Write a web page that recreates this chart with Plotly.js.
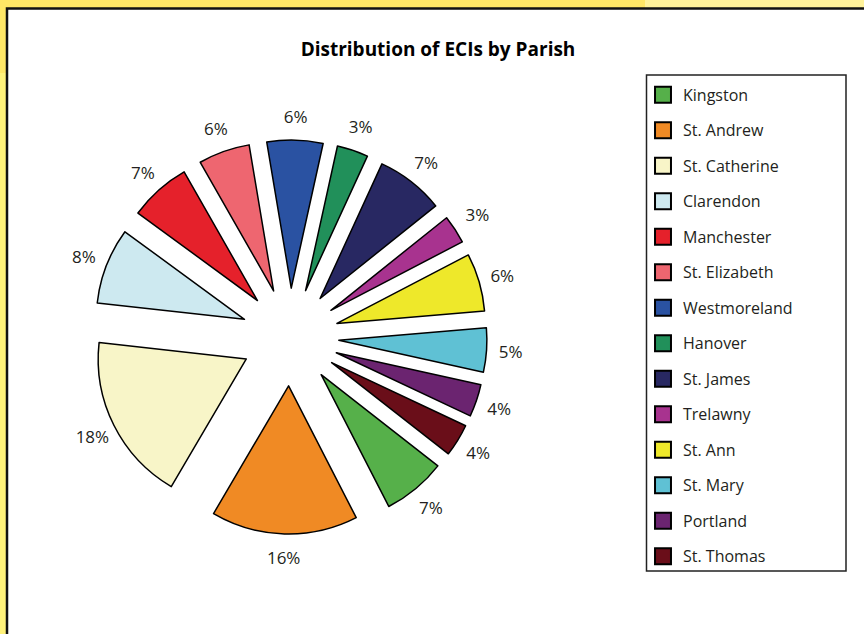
<!DOCTYPE html>
<html>
<head>
<meta charset="utf-8">
<script src="https://cdn.plot.ly/plotly-3.0.1.min.js"></script>
<style>
  html, body { margin: 0; padding: 0; background: #FFE766; }
  #chart { width: 864px; height: 634px; }
  .legend .legendpoints path {
    transform: translate(20px, 0px) scale(1.33);
  }
</style>
</head>
<body>
<div id="chart"></div>
<script>
// ---- data ----
const parishes = ["Kingston", "St. Andrew", "St. Catherine", "Clarendon", "Manchester",
  "St. Elizabeth", "Westmoreland", "Hanover", "St. James", "Trelawny",
  "St. Ann", "St. Mary", "Portland", "St. Thomas"];
const eciShare = [6.9, 16.0, 18.3, 8.3, 6.7, 5.6, 6.1, 3.4, 7.4, 3.1, 6.3, 4.8, 3.55, 3.55];
const sliceColors = ["#56B04A", "#F08A24", "#F8F5C8", "#CDE9F0", "#E5212B",
  "#EE6670", "#2A52A2", "#21905A", "#282862", "#A8338F",
  "#EEE82A", "#5FC1D4", "#6B2470", "#6A0E19"];
const chartTitle = "Distribution of ECIs by Parish";

// ---- layout helpers (pixel -> paper, margins are zero) ----
const W = 864, H = 634;
const px = x => x / W;
const py = y => 1 - y / H;
const FONT = "Open Sans, Noto Sans, sans-serif";

const cx = 290, cy = 337;          // pie centre (px)
const pull = 0.33;
const half = 197;                   // r*(1+pull)  -> r = 148
const halfL = 245.6;                // label ring outer radius (hole 0.8)

const legendLabels = parishes.map(p =>
  '<span style="font-size:16px;baseline-shift:4px">' + p + '</span>');

const pieMain = {
  type: "pie",
  labels: legendLabels,
  values: eciShare,
  sort: false,
  direction: "clockwise",
  rotation: 128,
  pull: pull,
  marker: { colors: sliceColors, line: { color: "#000000", width: 1.5 } },
  textinfo: "none",
  hoverinfo: "skip",
  domain: { x: [px(cx - half), px(cx + half)], y: [py(cy + half), py(cy - half)] },
  showlegend: true
};

// invisible ring that carries the percentage labels
const pieLabels = {
  type: "pie",
  labels: legendLabels,
  values: eciShare,
  sort: false,
  direction: "clockwise",
  rotation: 128,
  hole: 0.8,
  marker: { colors: parishes.map(() => "rgba(0,0,0,0)"), line: { width: 0 } },
  texttemplate: "%{percent:.0%}",
  textposition: "inside",
  insidetextorientation: "horizontal",
  insidetextfont: { family: FONT, size: 17, color: "#231F20" },
  hoverinfo: "skip",
  domain: { x: [px(cx - halfL), px(cx + halfL)], y: [py(cy + halfL), py(cy - halfL)] },
  showlegend: false
};

const layout = {
  width: W, height: H,
  margin: { l: 0, r: 0, t: 0, b: 0 },
  paper_bgcolor: "#FFE766",
  plot_bgcolor: "rgba(0,0,0,0)",
  font: { family: FONT, color: "#231F20" },
  title: {
    text: "<b>" + chartTitle + "</b>",
    font: { family: FONT, size: 19, color: "#000000" },
    x: px(438), xanchor: "center",
    y: py(49), yanchor: "middle", yref: "container"
  },
  showlegend: true,
  legend: {
    x: px(643), xanchor: "left",
    y: py(72), yanchor: "top",
    bgcolor: "rgba(0,0,0,0)",
    borderwidth: 0,
    font: { family: FONT, size: 25, color: "#231F20" },
    itemclick: false, itemdoubleclick: false
  },
  shapes: [
    { type: "rect", xref: "paper", yref: "paper", layer: "below",
      x0: px(645), x1: px(870), y0: py(0), y1: py(8),
      fillcolor: "#FFF29A", line: { width: 0 } },
    { type: "rect", xref: "paper", yref: "paper", layer: "below",
      x0: px(0), x1: px(6), y0: py(73), y1: py(640),
      fillcolor: "#FFF27A", line: { width: 0 } },
    { type: "rect", xref: "paper", yref: "paper", layer: "below",
      x0: px(7), x1: px(880), y0: py(8.5), y1: py(650),
      fillcolor: "#FFFFFF", line: { color: "#111111", width: 2.5 } },
    { type: "rect", xref: "paper", yref: "paper", layer: "below",
      x0: px(646.5), x1: px(846), y0: py(75), y1: py(571),
      fillcolor: "rgba(0,0,0,0)", line: { color: "#222222", width: 1.5 } }
  ]
};

Plotly.newPlot("chart", [pieMain, pieLabels], layout, { displayModeBar: false, staticPlot: true });
</script>
</body>
</html>
